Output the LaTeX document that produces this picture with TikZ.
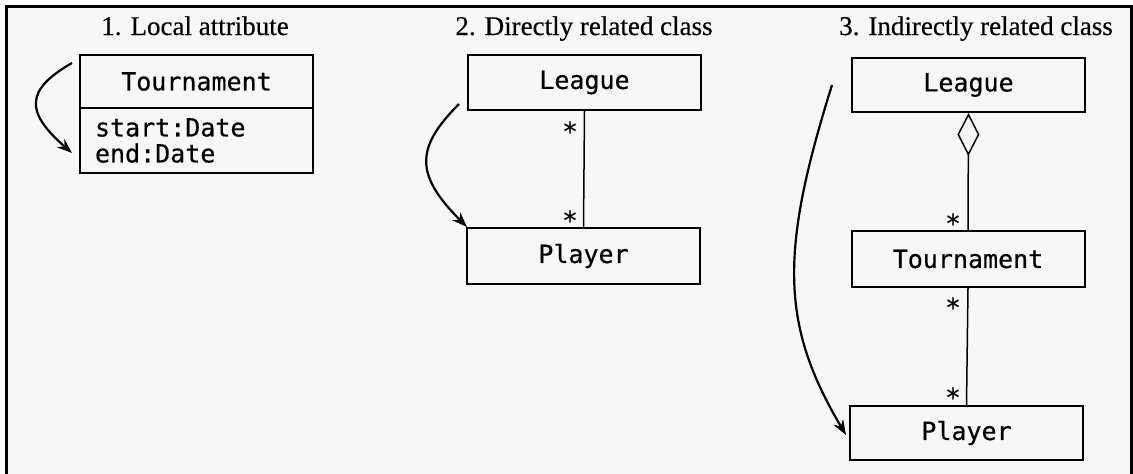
\documentclass[tikz,border=0pt]{standalone}
\usepackage{fontspec}
\setmainfont{Liberation Serif}[FakeBold=0.4]
\newfontfamily\monofont{DejaVu Sans Mono}[FakeBold=0.5]
\usetikzlibrary{arrows.meta}
\begin{document}
\begin{tikzpicture}[x=1pt,y=-1pt,
  classbox/.style={draw,line width=2pt,inner sep=0pt,font=\monofont\fontsize{25}{26}\selectfont,
    minimum width=233pt,anchor=center},
  titletext/.style={font=\fontsize{27}{30}\selectfont,anchor=base,inner sep=0pt},
  mult/.style={font=\monofont\fontsize{26}{26}\selectfont,inner sep=0pt},
  assoc/.style={line width=1.5pt},
  nav/.style={line width=2.2pt,-{Stealth[length=15pt,width=11pt]}},
  frameline/.style={line width=3pt}]
\useasboundingbox (0,0) rectangle (1133,474);
\fill[white] (0,0) rectangle (1133,474);
\fill[black!3] (6,6) rectangle (1131,474);
\draw[frameline] (6,474) -- (6,6) -- (1131,6) -- (1131,474);

% titles
\node[titletext] (title1) at (195,35) {1. Local attribute};
\node[titletext] (title2) at (584,35) {2. Directly related class};
\node[titletext] (title3) at (976,35) {3. Indirectly related class};

% 1. local attribute
\node[classbox,minimum height=53pt] (t1) at (196.5,81.5) {Tournament};
\node[classbox,minimum height=65pt,text width=203pt,inner xsep=15pt,align=left] (t1attr) at (196.5,140.5) {start:Date\\end:Date};
\coordinate (a1s) at (72,63);
\coordinate (a1e) at (72,153);
\draw[nav] (a1s) .. controls (25,90) and (25,112) .. (a1e);

% 2. directly related class
\node[classbox,minimum height=55pt] (l2) at (584.5,82.5) {League};
\node[classbox,minimum height=56pt] (p2) at (583.5,256) {Player};
\draw[assoc] (l2.south) -- (p2.north);
\node[mult] (m2a) at (570,131) {*};
\node[mult] (m2b) at (570,220) {*};
\coordinate (a2s) at (459,104);
\coordinate (a2e) at (467,227);
\draw[nav] (a2s) .. controls (415,148) and (415,175) .. (a2e);

% 3. indirectly related class
\node[classbox,minimum height=54pt] (l3) at (968.5,85) {League};
\node[classbox,minimum height=56pt] (t3) at (968,259) {Tournament};
\node[classbox,minimum height=54pt] (p3) at (966.5,433) {Player};
\draw[assoc,{Diamond[open,length=43pt,width=22pt,line width=1.5pt]}-] (l3.south) -- (t3.north);
\draw[assoc] (t3.south) -- (p3.north);
\node[mult] (m3a) at (953,223) {*};
\node[mult] (m3b) at (953,307) {*};
\node[mult] (m3c) at (953,397) {*};
\coordinate (a3s) at (832,85);
\coordinate (a3e) at (846,435);
\draw[nav] (a3s) .. controls (780,251) and (780,324) .. (a3e);
\end{tikzpicture}
\end{document}
